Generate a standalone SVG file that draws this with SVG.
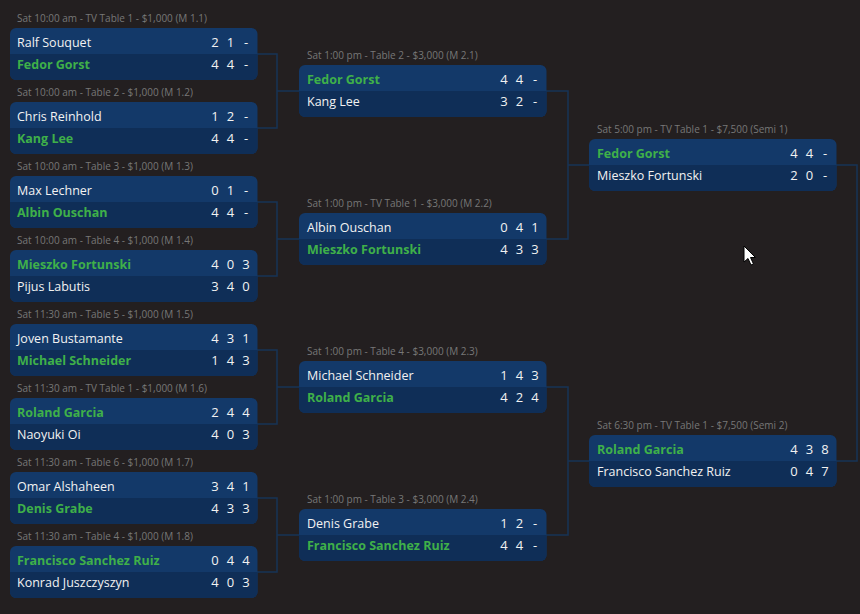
<svg xmlns="http://www.w3.org/2000/svg" width="860" height="614" viewBox="0 0 860 614">
<defs>
<style>
.bg{fill:#231f20}
.top{fill:#133969}
.bot{fill:#0f2e57}
.lbl{font-family:"Open Sans","Noto Sans","Liberation Sans",sans-serif;font-size:10px;fill:#777777}
.n{font-family:"Open Sans","Noto Sans","Liberation Sans",sans-serif;font-size:12.5px;fill:#f2f2f2}
.w{font-family:"Open Sans","Noto Sans","Liberation Sans",sans-serif;font-size:12.5px;font-weight:700;fill:#3fb049}
.s{font-family:"Open Sans","Noto Sans","Liberation Sans",sans-serif;font-size:13px;fill:#f2f2f2;text-anchor:middle}
.con{fill:none;stroke:#173456;stroke-width:1.5}
</style>
<g id="box">
<rect class="top" x="0" y="0" width="247.5" height="52" rx="6"/>
<path class="bot" d="M0,26 H247.5 V46 A6,6 0 0 1 241.5,52 H6 A6,6 0 0 1 0,46 Z"/>
</g>
</defs>
<rect class="bg" x="0" y="0" width="860" height="614"/>

<g id="connectors">
<path class="con" d="M257,54 H277 V128 H257 M277,91 H299"/>
<path class="con" d="M257,202 H277 V276 H257 M277,239 H299"/>
<path class="con" d="M257,350 H277 V424 H257 M277,387 H299"/>
<path class="con" d="M257,498 H277 V572 H257 M277,535 H299"/>
<path class="con" d="M546,91 H568 V239 H546 M568,165 H589"/>
<path class="con" d="M546,387 H568 V535 H546 M568,461 H589"/>
<path class="con" d="M836,165 H857 V461 H836"/>
</g>

<g id="m1-1" transform="translate(10,28)">
<text class="lbl" x="7" y="-6.5">Sat 10:00 am - TV Table 1 - $1,000 (M 1.1)</text>
<use href="#box"/>
<text class="n" x="7" y="18.5">Ralf Souquet</text><text class="s" x="205" y="18.5">2</text><text class="s" x="220.5" y="18.5">1</text><text class="s" x="236" y="18.5">-</text>
<text class="w" x="7" y="40.5">Fedor Gorst</text><text class="s" x="205" y="40.5">4</text><text class="s" x="220.5" y="40.5">4</text><text class="s" x="236" y="40.5">-</text>
</g>
<g id="m1-2" transform="translate(10,102)">
<text class="lbl" x="7" y="-6.5">Sat 10:00 am - Table 2 - $1,000 (M 1.2)</text>
<use href="#box"/>
<text class="n" x="7" y="18.5">Chris Reinhold</text><text class="s" x="205" y="18.5">1</text><text class="s" x="220.5" y="18.5">2</text><text class="s" x="236" y="18.5">-</text>
<text class="w" x="7" y="40.5">Kang Lee</text><text class="s" x="205" y="40.5">4</text><text class="s" x="220.5" y="40.5">4</text><text class="s" x="236" y="40.5">-</text>
</g>
<g id="m1-3" transform="translate(10,176)">
<text class="lbl" x="7" y="-6.5">Sat 10:00 am - Table 3 - $1,000 (M 1.3)</text>
<use href="#box"/>
<text class="n" x="7" y="18.5">Max Lechner</text><text class="s" x="205" y="18.5">0</text><text class="s" x="220.5" y="18.5">1</text><text class="s" x="236" y="18.5">-</text>
<text class="w" x="7" y="40.5">Albin Ouschan</text><text class="s" x="205" y="40.5">4</text><text class="s" x="220.5" y="40.5">4</text><text class="s" x="236" y="40.5">-</text>
</g>
<g id="m1-4" transform="translate(10,250)">
<text class="lbl" x="7" y="-6.5">Sat 10:00 am - Table 4 - $1,000 (M 1.4)</text>
<use href="#box"/>
<text class="w" x="7" y="18.5">Mieszko Fortunski</text><text class="s" x="205" y="18.5">4</text><text class="s" x="220.5" y="18.5">0</text><text class="s" x="236" y="18.5">3</text>
<text class="n" x="7" y="40.5">Pijus Labutis</text><text class="s" x="205" y="40.5">3</text><text class="s" x="220.5" y="40.5">4</text><text class="s" x="236" y="40.5">0</text>
</g>
<g id="m1-5" transform="translate(10,324)">
<text class="lbl" x="7" y="-6.5">Sat 11:30 am - Table 5 - $1,000 (M 1.5)</text>
<use href="#box"/>
<text class="n" x="7" y="18.5">Joven Bustamante</text><text class="s" x="205" y="18.5">4</text><text class="s" x="220.5" y="18.5">3</text><text class="s" x="236" y="18.5">1</text>
<text class="w" x="7" y="40.5">Michael Schneider</text><text class="s" x="205" y="40.5">1</text><text class="s" x="220.5" y="40.5">4</text><text class="s" x="236" y="40.5">3</text>
</g>
<g id="m1-6" transform="translate(10,398)">
<text class="lbl" x="7" y="-6.5">Sat 11:30 am - TV Table 1 - $1,000 (M 1.6)</text>
<use href="#box"/>
<text class="w" x="7" y="18.5">Roland Garcia</text><text class="s" x="205" y="18.5">2</text><text class="s" x="220.5" y="18.5">4</text><text class="s" x="236" y="18.5">4</text>
<text class="n" x="7" y="40.5">Naoyuki Oi</text><text class="s" x="205" y="40.5">4</text><text class="s" x="220.5" y="40.5">0</text><text class="s" x="236" y="40.5">3</text>
</g>
<g id="m1-7" transform="translate(10,472)">
<text class="lbl" x="7" y="-6.5">Sat 11:30 am - Table 6 - $1,000 (M 1.7)</text>
<use href="#box"/>
<text class="n" x="7" y="18.5">Omar Alshaheen</text><text class="s" x="205" y="18.5">3</text><text class="s" x="220.5" y="18.5">4</text><text class="s" x="236" y="18.5">1</text>
<text class="w" x="7" y="40.5">Denis Grabe</text><text class="s" x="205" y="40.5">4</text><text class="s" x="220.5" y="40.5">3</text><text class="s" x="236" y="40.5">3</text>
</g>
<g id="m1-8" transform="translate(10,546)">
<text class="lbl" x="7" y="-6.5">Sat 11:30 am - Table 4 - $1,000 (M 1.8)</text>
<use href="#box"/>
<text class="w" x="7" y="18.5">Francisco Sanchez Ruiz</text><text class="s" x="205" y="18.5">0</text><text class="s" x="220.5" y="18.5">4</text><text class="s" x="236" y="18.5">4</text>
<text class="n" x="7" y="40.5">Konrad Juszczyszyn</text><text class="s" x="205" y="40.5">4</text><text class="s" x="220.5" y="40.5">0</text><text class="s" x="236" y="40.5">3</text>
</g>

<g id="m2-1" transform="translate(299,65)">
<text class="lbl" x="8" y="-6.5">Sat 1:00 pm - Table 2 - $3,000 (M 2.1)</text>
<use href="#box"/>
<text class="w" x="8" y="18.5">Fedor Gorst</text><text class="s" x="205" y="18.5">4</text><text class="s" x="220.5" y="18.5">4</text><text class="s" x="236" y="18.5">-</text>
<text class="n" x="8" y="40.5">Kang Lee</text><text class="s" x="205" y="40.5">3</text><text class="s" x="220.5" y="40.5">2</text><text class="s" x="236" y="40.5">-</text>
</g>
<g id="m2-2" transform="translate(299,213)">
<text class="lbl" x="8" y="-6.5">Sat 1:00 pm - TV Table 1 - $3,000 (M 2.2)</text>
<use href="#box"/>
<text class="n" x="8" y="18.5">Albin Ouschan</text><text class="s" x="205" y="18.5">0</text><text class="s" x="220.5" y="18.5">4</text><text class="s" x="236" y="18.5">1</text>
<text class="w" x="8" y="40.5">Mieszko Fortunski</text><text class="s" x="205" y="40.5">4</text><text class="s" x="220.5" y="40.5">3</text><text class="s" x="236" y="40.5">3</text>
</g>
<g id="m2-3" transform="translate(299,361)">
<text class="lbl" x="8" y="-6.5">Sat 1:00 pm - Table 4 - $3,000 (M 2.3)</text>
<use href="#box"/>
<text class="n" x="8" y="18.5">Michael Schneider</text><text class="s" x="205" y="18.5">1</text><text class="s" x="220.5" y="18.5">4</text><text class="s" x="236" y="18.5">3</text>
<text class="w" x="8" y="40.5">Roland Garcia</text><text class="s" x="205" y="40.5">4</text><text class="s" x="220.5" y="40.5">2</text><text class="s" x="236" y="40.5">4</text>
</g>
<g id="m2-4" transform="translate(299,509)">
<text class="lbl" x="8" y="-6.5">Sat 1:00 pm - Table 3 - $3,000 (M 2.4)</text>
<use href="#box"/>
<text class="n" x="8" y="18.5">Denis Grabe</text><text class="s" x="205" y="18.5">1</text><text class="s" x="220.5" y="18.5">2</text><text class="s" x="236" y="18.5">-</text>
<text class="w" x="8" y="40.5">Francisco Sanchez Ruiz</text><text class="s" x="205" y="40.5">4</text><text class="s" x="220.5" y="40.5">4</text><text class="s" x="236" y="40.5">-</text>
</g>

<g id="semi-1" transform="translate(589,139)">
<text class="lbl" x="8" y="-6.5">Sat 5:00 pm - TV Table 1 - $7,500 (Semi 1)</text>
<use href="#box"/>
<text class="w" x="8" y="18.5">Fedor Gorst</text><text class="s" x="205" y="18.5">4</text><text class="s" x="220.5" y="18.5">4</text><text class="s" x="236" y="18.5">-</text>
<text class="n" x="8" y="40.5">Mieszko Fortunski</text><text class="s" x="205" y="40.5">2</text><text class="s" x="220.5" y="40.5">0</text><text class="s" x="236" y="40.5">-</text>
</g>
<g id="semi-2" transform="translate(589,435)">
<text class="lbl" x="8" y="-6.5">Sat 6:30 pm - TV Table 1 - $7,500 (Semi 2)</text>
<use href="#box"/>
<text class="w" x="8" y="18.5">Roland Garcia</text><text class="s" x="205" y="18.5">4</text><text class="s" x="220.5" y="18.5">3</text><text class="s" x="236" y="18.5">8</text>
<text class="n" x="8" y="40.5">Francisco Sanchez Ruiz</text><text class="s" x="205" y="40.5">0</text><text class="s" x="220.5" y="40.5">4</text><text class="s" x="236" y="40.5">7</text>
</g>

<path d="M744,246 V262 L748,258.5 L751,265 L753.5,264 L750.5,257.5 L755.5,257.5 Z" fill="#ffffff" stroke="#000000" stroke-width="1"/>
</svg>
